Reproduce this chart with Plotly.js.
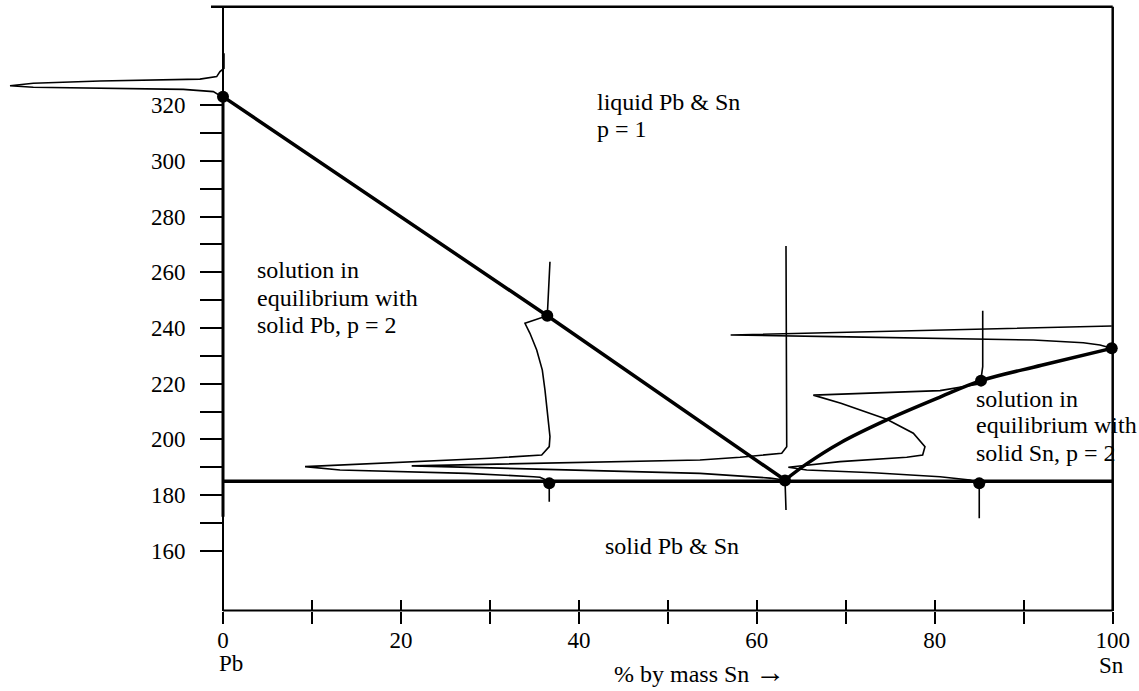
<!DOCTYPE html>
<html>
<head>
<meta charset="utf-8">
<script src="https://cdn.plot.ly/plotly-3.0.1.min.js"></script>
<style>html,body{margin:0;padding:0;background:#fff;}#chart{width:1139px;height:691px;}</style>
</head>
<body>
<div id="chart"></div>
<script>
// ---- data (x = % by mass Sn, y = temperature) ----
// phase-boundary points (dots)
const dotX = [0, 36.45, 63.17, 85.2, 99.89, 36.67, 85.0];
const dotY = [323.1, 244.4, 185.2, 221.1, 232.7, 184.2, 184.2];

// liquidus, Pb side (Pb melting point -> 37 % -> eutectic)
const liqLeftX = [0, 36.45, 63.17];
const liqLeftY = [323.1, 244.4, 185.4];

// liquidus, Sn side (eutectic -> Sn melting point)
const liqRightX = [63.17, 65.6, 69.45, 74.6, 80.59, 85.2, 92.0, 99.89];
const liqRightY = [185.4, 191.2, 198.9, 207.0, 215.2, 221.1, 226.6, 232.7];

// eutectic horizontal and solid Pb vertical
const eutX = [0, 100];
const eutY = [185, 185];
const pbSolidX = [0, 0];
const pbSolidY = [323.1, 172.2];

// cooling curves (thin)
const cool0X = [0.11, 0.11, -0.34, -0.71, -2.59, -13.83, -21.32, -23.94, -21.32, -13.83, -4.46, -1.09, -0.15];
const cool0Y = [338.7, 333.3, 332.1, 330.3, 329.4, 328.7, 327.9, 327.0, 326.5, 326.1, 325.7, 324.9, 323.1];

const cool37X = [36.75, 36.45, 33.94, 34.5, 35.26, 35.89, 36.19, 36.45, 36.75, 36.67, 35.82, 30.01, 9.22, 13.15, 27.39, 34.88, 35.63, 36.3, 36.67, 36.67];
const cool37Y = [263.8, 244.4, 241.7, 238.1, 232.1, 224.9, 217.7, 209.4, 201.0, 197.4, 194.4, 193.2, 190.2, 189.0, 187.8, 186.6, 186.4, 185.4, 184.2, 177.6];

const cool63X = [63.28, 63.36, 62.8, 58.11, 53.61, 21.21, 53.61, 58.11, 61.48, 63.17, 63.28];
const cool63Y = [269.5, 197.4, 195.0, 193.6, 192.6, 190.5, 187.8, 186.8, 186.1, 185.3, 174.6];

const cool85X = [85.39, 85.39, 85.26, 85.2, 84.97, 80.59, 66.35, 69.45, 74.6, 77.59, 78.9, 78.64, 76.85, 69.35, 63.54, 65.61, 73.09, 80.59, 83.96, 85.0, 85.0];
const cool85Y = [246.2, 226.1, 223.1, 221.1, 219.9, 217.5, 215.9, 213.0, 207.2, 202.2, 197.4, 194.4, 193.6, 192.0, 190.0, 189.0, 188.0, 186.6, 185.4, 184.2, 171.65];

const cool100X = [99.89, 57.06, 68.6, 91.08, 96.7, 98.57, 99.89];
const cool100Y = [240.7, 237.5, 236.9, 235.7, 234.7, 233.9, 232.7];

// ticks
const xTickVals = [0, 10, 20, 30, 40, 50, 60, 70, 80, 90, 100];
const xTickText = ['0', '', '20', '', '40', '', '60', '', '80', '', '100'];
const yTickVals = [160, 170, 180, 190, 200, 210, 220, 230, 240, 250, 260, 270, 280, 290, 300, 310, 320];
const yTickText = ['160', '', '180', '', '200', '', '220', '', '240', '', '260', '', '280', '', '300', '', '320'];

// region labels
const labels = [
  {text: 'liquid Pb & Sn', x: 41.81, y: 321.19},
  {text: 'p = 1', x: 41.81, y: 311.38},
  {text: 'solution in', x: 3.6, y: 260.73},
  {text: 'equilibrium with', x: 3.6, y: 250.96},
  {text: 'solid Pb, p = 2', x: 3.6, y: 241.19},
  {text: 'solution in', x: 84.41, y: 214.61},
  {text: 'equilibrium with', x: 84.41, y: 205.06},
  {text: 'solid Sn, p = 2', x: 84.41, y: 195.22},
  {text: 'solid Pb & Sn', x: 42.71, y: 161.7}
];

// ---- layout constants ----
const X_RANGE = [-25.065, 102.956];
const Y_RANGE = [109.62, 357.82];
const AXIS_Y = 138.5;      // bottom axis level
const FRAME_TOP = 355.4;
const FRAME_LEFT_EXT = -1.35;

const xAxisPos = (AXIS_Y - Y_RANGE[0]) / (Y_RANGE[1] - Y_RANGE[0]);
const yAxisPos = (0 - X_RANGE[0]) / (X_RANGE[1] - X_RANGE[0]);

const FONT = 'Liberation Serif, Times New Roman, DejaVu Serif, serif';
const thin = {color: '#000', width: 1.6};
const thick = {color: '#000', width: 3.5};

function lineTrace(x, y, line, extra) {
  return Object.assign({x: x, y: y, type: 'scatter', mode: 'lines', line: line, hoverinfo: 'skip', showlegend: false}, extra || {});
}

const traces = [
  lineTrace(cool0X, cool0Y, thin),
  lineTrace(cool37X, cool37Y, thin),
  lineTrace(cool63X, cool63Y, thin),
  lineTrace(cool85X, cool85Y, thin),
  lineTrace(cool100X, cool100Y, thin),
  lineTrace(eutX, eutY, {color: '#000', width: 3.5}),
  lineTrace(pbSolidX, pbSolidY, {color: '#000', width: 3}),
  lineTrace(liqLeftX, liqLeftY, thick),
  lineTrace(liqRightX, liqRightY, {color: '#000', width: 3.5, shape: 'spline', smoothing: 1}),
  {x: dotX, y: dotY, type: 'scatter', mode: 'markers', marker: {color: '#000', size: 12}, hoverinfo: 'skip', showlegend: false, cliponaxis: false},
  {x: [null], y: [null], type: 'scatter', mode: 'markers', xaxis: 'x2', yaxis: 'y', hoverinfo: 'skip', showlegend: false}
];

function seg(x0, y0, x1, y1, w) {
  return {type: 'line', xref: 'x', yref: 'y', x0: x0, y0: y0, x1: x1, y1: y1, line: {color: '#000', width: w}};
}

const annotations = labels.map(l => ({
  text: l.text, x: l.x, y: l.y, xref: 'x', yref: 'y', xanchor: 'left', yanchor: 'middle',
  showarrow: false, font: {family: FONT, size: 24, color: '#000'}
}));
annotations.push({text: 'Pb', x: -0.67, y: 119.43, xref: 'x', yref: 'y', xanchor: 'left', yanchor: 'middle', showarrow: false, font: {family: FONT, size: 23, color: '#000'}});
annotations.push({text: 'Sn', x: 98.24, y: 118.96, xref: 'x', yref: 'y', xanchor: 'left', yanchor: 'middle', showarrow: false, font: {family: FONT, size: 23, color: '#000'}});
annotations.push({text: '% by mass Sn <span style="font-size:30px">\u2192</span>', x: 63.39, y: 116.8, xref: 'x', yref: 'y', xanchor: 'right', yanchor: 'middle', showarrow: false, font: {family: FONT, size: 24, color: '#000'}});

const layout = {
  width: 1139, height: 691,
  margin: {l: 0, r: 0, t: 0, b: 0, pad: 0},
  paper_bgcolor: '#fff', plot_bgcolor: '#fff',
  showlegend: false,
  font: {family: FONT, color: '#000', size: 23},
  xaxis: {
    range: X_RANGE, domain: [0, 1], anchor: 'free', position: xAxisPos,
    showline: false, showgrid: false, zeroline: false,
    ticks: 'outside', ticklen: 12, tickwidth: 2, tickcolor: '#000',
    tickmode: 'array', tickvals: xTickVals, ticktext: xTickText,
    tickfont: {family: FONT, size: 23, color: '#000'}, ticklabelstandoff: -3,
    automargin: false, fixedrange: true
  },
  xaxis2: {
    range: X_RANGE, overlaying: 'x', anchor: 'free', position: xAxisPos,
    showline: false, showgrid: false, zeroline: false,
    ticks: 'inside', ticklen: 11, tickwidth: 2, tickcolor: '#000',
    tickmode: 'array', tickvals: xTickVals, showticklabels: false,
    automargin: false, fixedrange: true
  },
  yaxis: {
    range: Y_RANGE, domain: [0, 1], anchor: 'free', position: yAxisPos,
    showline: false, showgrid: false, zeroline: false,
    ticks: 'outside', ticklen: 23, tickwidth: 2, tickcolor: '#000',
    tickmode: 'array', tickvals: yTickVals, ticktext: yTickText,
    tickfont: {family: FONT, size: 23, color: '#000'}, ticklabelstandoff: 10,
    automargin: false, fixedrange: true
  },
  shapes: [
    seg(0, AXIS_Y, 100, AXIS_Y, 2),
    seg(0, AXIS_Y, 0, FRAME_TOP, 2),
    seg(FRAME_LEFT_EXT, FRAME_TOP, 100, FRAME_TOP, 2.5),
    seg(100, AXIS_Y, 100, FRAME_TOP, 2.5)
  ],
  annotations: annotations
};

Plotly.newPlot('chart', traces, layout, {displayModeBar: false, staticPlot: true});
</script>
</body>
</html>
